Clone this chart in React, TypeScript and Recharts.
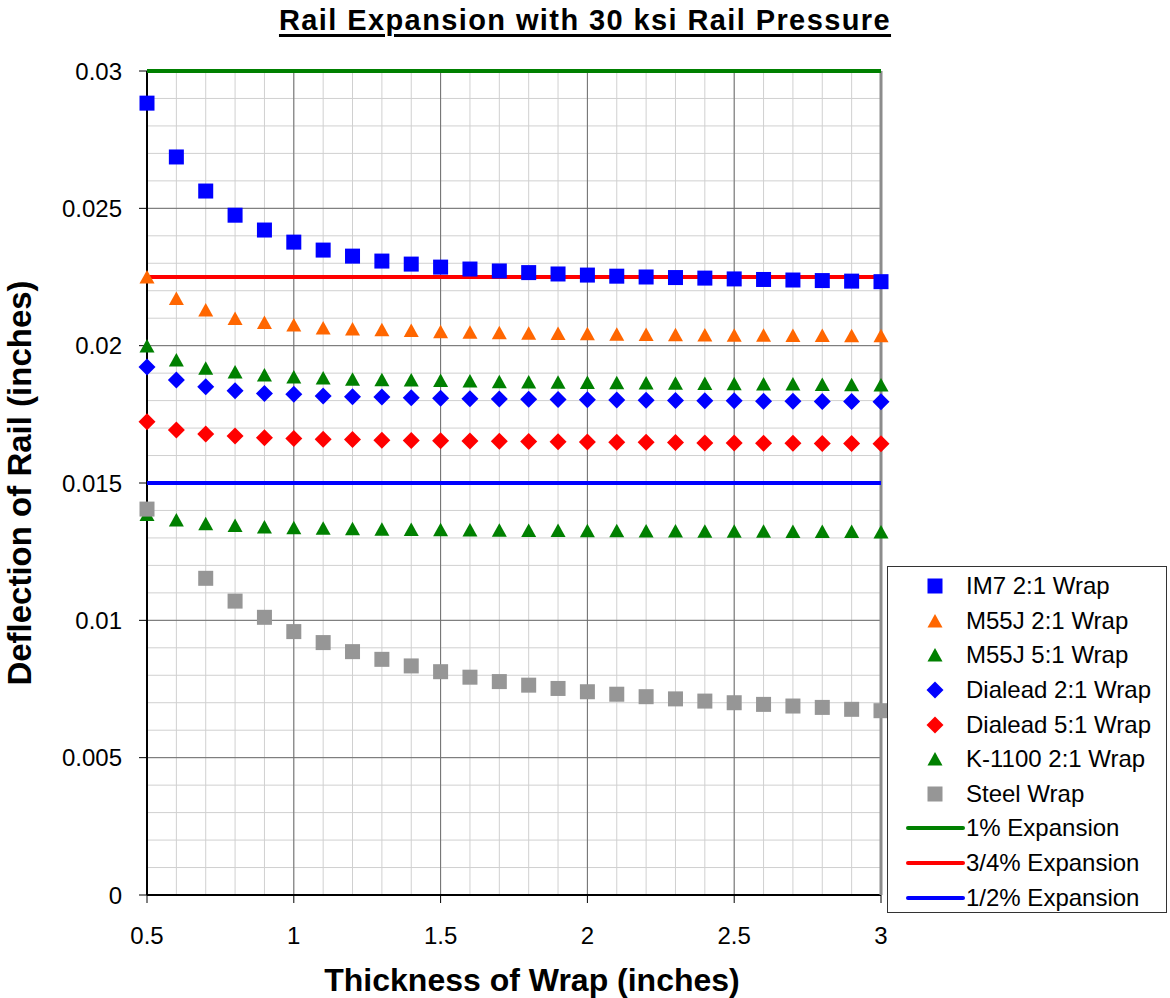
import React from 'react'
import { ScatterChart, Scatter, XAxis, YAxis, CartesianGrid, Label } from 'recharts'

const FONT = '"Liberation Sans", Arial, Helvetica, sans-serif'

// wrap thickness (inches), one point every 0.1
const thickness = [
  0.5, 0.6, 0.7, 0.8, 0.9, 1.0, 1.1, 1.2, 1.3, 1.4, 1.5, 1.6, 1.7,
  1.8, 1.9, 2.0, 2.1, 2.2, 2.3, 2.4, 2.5, 2.6, 2.7, 2.8, 2.9, 3.0,
]

// rail deflection (inches) per wrap material
const im7 = [
  0.02883, 0.02687, 0.02563, 0.02475, 0.02421, 0.02377, 0.02348, 0.02326, 0.02308,
  0.02297, 0.02286, 0.02279, 0.02272, 0.02266, 0.02261, 0.02257, 0.02253, 0.0225,
  0.02248, 0.02246, 0.02243, 0.02241, 0.02239, 0.02237, 0.02235, 0.02233,
]
const m55j21 = [
  0.0225, 0.02172, 0.0213, 0.02099, 0.02084, 0.02075, 0.02064, 0.02061, 0.02058,
  0.02055, 0.02051, 0.02049, 0.02047, 0.02045, 0.02044, 0.02043, 0.02042, 0.02041,
  0.0204, 0.02039, 0.02038, 0.02038, 0.02037, 0.02037, 0.02036, 0.02036,
]
const m55j51 = [
  0.01999, 0.01948, 0.01918, 0.01904, 0.01893, 0.01886, 0.01882, 0.01878, 0.01876,
  0.01875, 0.01873, 0.01871, 0.01869, 0.01868, 0.01867, 0.01866, 0.01865, 0.01864,
  0.01863, 0.01862, 0.01861, 0.0186, 0.0186, 0.01859, 0.01858, 0.01857,
]
const dialead21 = [
  0.01922, 0.01875, 0.0185, 0.01836, 0.01826, 0.01823, 0.01817, 0.01814, 0.01813,
  0.0181, 0.01809, 0.01807, 0.01806, 0.01805, 0.01804, 0.01803, 0.01802, 0.01801,
  0.018, 0.01799, 0.01799, 0.01798, 0.01798, 0.01797, 0.01797, 0.01796,
]
const dialead51 = [
  0.01723, 0.01693, 0.01678, 0.01671, 0.01665, 0.01662, 0.01659, 0.01658, 0.01656,
  0.01655, 0.01654, 0.01653, 0.01652, 0.01651, 0.0165, 0.01649, 0.01648, 0.01648,
  0.01647, 0.01646, 0.01646, 0.01645, 0.01645, 0.01644, 0.01644, 0.01643,
]
const k1100 = [
  0.01385, 0.01365, 0.01352, 0.01345, 0.0134, 0.01337, 0.01335, 0.01333, 0.01332,
  0.01331, 0.0133, 0.01329, 0.01328, 0.01327, 0.01327, 0.01326, 0.01326, 0.01325,
  0.01325, 0.01324, 0.01324, 0.01324, 0.01323, 0.01323, 0.01323, 0.01322,
]
// no result at 0.6
const steel = [
  0.01405, null, 0.01153, 0.0107, 0.01011, 0.00959, 0.00919, 0.00886, 0.00858,
  0.00834, 0.00813, 0.00793, 0.00777, 0.00764, 0.00752, 0.0074, 0.00731, 0.00722,
  0.00714, 0.00706, 0.007, 0.00694, 0.00688, 0.00683, 0.00676, 0.00671,
]

// allowable deflection limits
const expansionNames = ['1% Expansion', '3/4% Expansion', '1/2% Expansion']
const expansionLimits = [0.03, 0.0225, 0.015]
const expansionColors = ['#008000', '#ff0000', '#0000ff']

const xDomain: [number, number] = [0.5, 3]
const yDomain: [number, number] = [0, 0.03]
const xTicks = [0.5, 1, 1.5, 2, 2.5, 3]
const yTicks = [0, 0.005, 0.01, 0.015, 0.02, 0.025, 0.03]
const yTickLabels = ['0', '0.005', '0.01', '0.015', '0.02', '0.025', '0.03']
const yMinor = Array.from({ length: 31 }, (_, i) => i / 1000)

type Marker = 'square' | 'triangle' | 'diamond'

const series: { name: string; values: (number | null)[]; color: string; marker: Marker }[] = [
  { name: 'IM7 2:1 Wrap', values: im7, color: '#0000ff', marker: 'square' },
  { name: 'M55J 2:1 Wrap', values: m55j21, color: '#ff6600', marker: 'triangle' },
  { name: 'M55J 5:1 Wrap', values: m55j51, color: '#008000', marker: 'triangle' },
  { name: 'Dialead 2:1 Wrap', values: dialead21, color: '#0000ff', marker: 'diamond' },
  { name: 'Dialead 5:1 Wrap', values: dialead51, color: '#ff0000', marker: 'diamond' },
  { name: 'K-1100 2:1 Wrap', values: k1100, color: '#008000', marker: 'triangle' },
  { name: 'Steel Wrap', values: steel, color: '#969696', marker: 'square' },
]

const toPoints = (values: (number | null)[]) =>
  thickness
    .map((x, i) => ({ x, y: values[i] }))
    .filter((p) => p.y !== null)

// grid positions from the plot rectangle and the fixed axis domains
const gridY = (values: number[]) => ({ offset }: any) =>
  values.map((v) => offset.top + offset.height * (1 - (v - yDomain[0]) / (yDomain[1] - yDomain[0])))
const gridX = (values: number[]) => ({ offset }: any) =>
  values.map((v) => offset.left + (offset.width * (v - xDomain[0])) / (xDomain[1] - xDomain[0]))

const drawMarker = (marker: Marker, color: string, cx: number, cy: number) => {
  if (marker === 'square') {
    return <rect x={cx - 7.5} y={cy - 7.5} width={15} height={15} fill={color} />
  }
  if (marker === 'triangle') {
    return (
      <polygon
        points={`${cx},${cy - 7} ${cx + 7.5},${cy + 6.5} ${cx - 7.5},${cy + 6.5}`}
        fill={color}
      />
    )
  }
  return (
    <polygon
      points={`${cx},${cy - 8.5} ${cx + 8.5},${cy} ${cx},${cy + 8.5} ${cx - 8.5},${cy}`}
      fill={color}
    />
  )
}

const ChartLegend = () => (
  <div
    style={{
      position: 'absolute',
      left: 887,
      top: 566,
      width: 280,
      height: 347,
      border: '1px solid #333',
      background: '#fff',
      boxSizing: 'border-box',
      paddingTop: 2,
      fontFamily: FONT,
      fontSize: 24,
      color: '#000',
    }}
  >
    {series.map((s) => (
      <div key={s.name} style={{ display: 'flex', alignItems: 'center', height: 34.6 }}>
        <svg width={78} height={30} style={{ flex: 'none' }}>
          {drawMarker(s.marker, s.color, 47, 15)}
        </svg>
        <span>{s.name}</span>
      </div>
    ))}
    {expansionNames.map((name, i) => (
      <div key={name} style={{ display: 'flex', alignItems: 'center', height: 34.6 }}>
        <svg width={78} height={30} style={{ flex: 'none' }}>
          <line x1={20} x2={75} y1={15} y2={15} stroke={expansionColors[i]} strokeWidth={4} strokeLinecap="round" />
        </svg>
        <span>{name}</span>
      </div>
    ))}
  </div>
)

export default function App() {
  return (
    <div style={{ position: 'absolute', left: 0, top: 0, width: 1170, height: 998, background: '#fff' }}>
      <div
        style={{
          position: 'absolute',
          left: 0,
          top: 4,
          width: 1170,
          textAlign: 'center',
          fontFamily: FONT,
          fontWeight: 'bold',
          fontSize: 29,
          letterSpacing: 1.4,
          textDecoration: 'underline',
          textDecorationThickness: 3,
          textUnderlineOffset: 4,
        }}
      >
        Rail Expansion with 30 ksi Rail Pressure
      </div>
      <ScatterChart width={1170} height={998} margin={{ top: 71, right: 229, bottom: 0, left: 0 }}>
        <CartesianGrid
          stroke="#d0d0d0"
          horizontalCoordinatesGenerator={gridY(yMinor)}
          verticalCoordinatesGenerator={gridX(thickness)}
        />
        <CartesianGrid
          stroke="#6e6e6e"
          horizontalCoordinatesGenerator={gridY(yTicks)}
          verticalCoordinatesGenerator={gridX(xTicks)}
        />
        <XAxis
          dataKey="x"
          type="number"
          domain={xDomain}
          ticks={xTicks}
          interval={0}
          height={103}
          axisLine={{ stroke: '#000', strokeWidth: 2 }}
          tickLine={{ stroke: '#000' }}
          tickSize={8}
          tickMargin={24}
          tick={{ fontSize: 24, fill: '#000', fontFamily: FONT }}
        >
          <Label
            value="Thickness of Wrap (inches)"
            position="insideBottom"
            offset={7}
            dx={18}
            style={{ fontSize: 32, fontWeight: 'bold', fill: '#000', fontFamily: FONT }}
          />
        </XAxis>
        <YAxis
          dataKey="y"
          type="number"
          domain={yDomain}
          ticks={yTicks}
          interval={0}
          width={147}
          tickFormatter={(v: number) => yTickLabels[yTicks.indexOf(v)] ?? String(v)}
          axisLine={{ stroke: '#000', strokeWidth: 2 }}
          tickLine={{ stroke: '#000' }}
          tickSize={8}
          tickMargin={17}
          tick={{ fontSize: 24, fill: '#000', fontFamily: FONT }}
        >
          <Label
            value="Deflection of Rail (inches)"
            angle={-90}
            position="insideLeft"
            offset={24}
            dx={-5}
            style={{ fontSize: 33, fontWeight: 'bold', fill: '#000', fontFamily: FONT, textAnchor: 'middle' }}
          />
        </YAxis>
        <YAxis
          yAxisId="frame"
          orientation="right"
          type="number"
          domain={yDomain}
          width={60}
          tick={false}
          tickLine={false}
          axisLine={{ stroke: '#8c8c8c', strokeWidth: 3 }}
        />
        {expansionLimits.map((limit, i) => (
          <Scatter
            key={expansionNames[i]}
            name={expansionNames[i]}
            data={xDomain.map((x) => ({ x, y: limit }))}
            stroke={expansionColors[i]}
            strokeWidth={4}
            line={{ stroke: expansionColors[i], strokeWidth: 4 }}
            shape={() => <g />}
            isAnimationActive={false}
          />
        ))}
        {series.map((s) => (
          <Scatter
            key={s.name}
            name={s.name}
            data={toPoints(s.values)}
            fill={s.color}
            shape={(p: any) => drawMarker(s.marker, s.color, p.cx, p.cy)}
            isAnimationActive={false}
          />
        ))}
      </ScatterChart>
      <ChartLegend />
    </div>
  )
}
